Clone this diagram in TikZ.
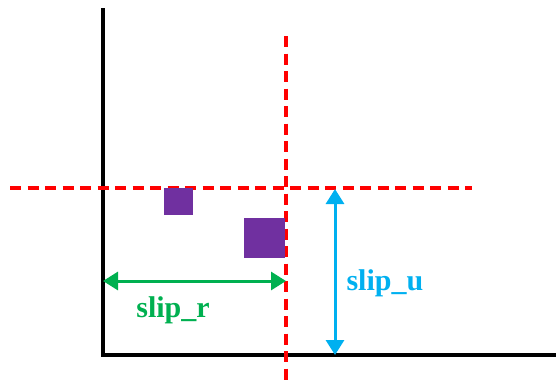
\documentclass[tikz,border=0pt]{standalone}
\usepackage{fontspec}
\setmainfont{Liberation Serif}
\usetikzlibrary{arrows.meta}
\definecolor{SlipRed}{HTML}{FF0000}
\definecolor{SlipGreen}{HTML}{00B050}
\definecolor{SlipBlue}{HTML}{00B0F0}
\definecolor{BlockPurple}{HTML}{7030A0}

\begin{document}
\begin{tikzpicture}[x=1pt, y=-1pt,
  axis/.style={line width=3.5pt, draw=black},
  guide/.style={line width=3.2pt, draw=SlipRed, dash pattern=on 11pt off 6.5pt},
  block/.style={fill=BlockPurple, draw=none, inner sep=0pt, outer sep=0pt},
  dim/.style={{Triangle[length=15pt, width=18pt]}-{Triangle[length=15pt, width=18pt]}, line width=3pt},
  lbl/.style={font=\fontsize{30}{32}\selectfont\bfseries}]
  \useasboundingbox (0,0) rectangle (556,383);
  % axes
  \coordinate (ytop) at (103,8);
  \coordinate (orig) at (103,355);
  \coordinate (xend) at (556,355);
  \draw[axis] (ytop) -- (orig |- 0,356.75);
  \draw[axis] (101.25,355) -- (xend);
  % slip lines
  \coordinate (vtop) at (286,36);
  \coordinate (vbot) at (286,383);
  \coordinate (hleft) at (10,188);
  \coordinate (hright) at (472,188);
  \draw[guide] (vtop) -- (vbot);
  \draw[guide] (hleft) -- (hright);
  % blocks
  \node[block, minimum width=29pt, minimum height=27pt, anchor=north west] (small) at (164,188) {};
  \node[block, minimum width=41pt, minimum height=40pt, anchor=north west] (big) at (244,218) {};
  % slip arrows
  \coordinate (rl) at (103,281);
  \coordinate (rr) at (286,281);
  \draw[dim, SlipGreen] (rl) -- (rr);
  \coordinate (ut) at (335,189);
  \coordinate (ub) at (335,355);
  \draw[dim, SlipBlue] (ut) -- (ub);
  \node[lbl, text=SlipGreen] (slipr) at (173,310) {slip\_r};
  \node[lbl, text=SlipBlue, anchor=west] (slipu) at (343,283) {slip\_u};
\end{tikzpicture}
\end{document}
